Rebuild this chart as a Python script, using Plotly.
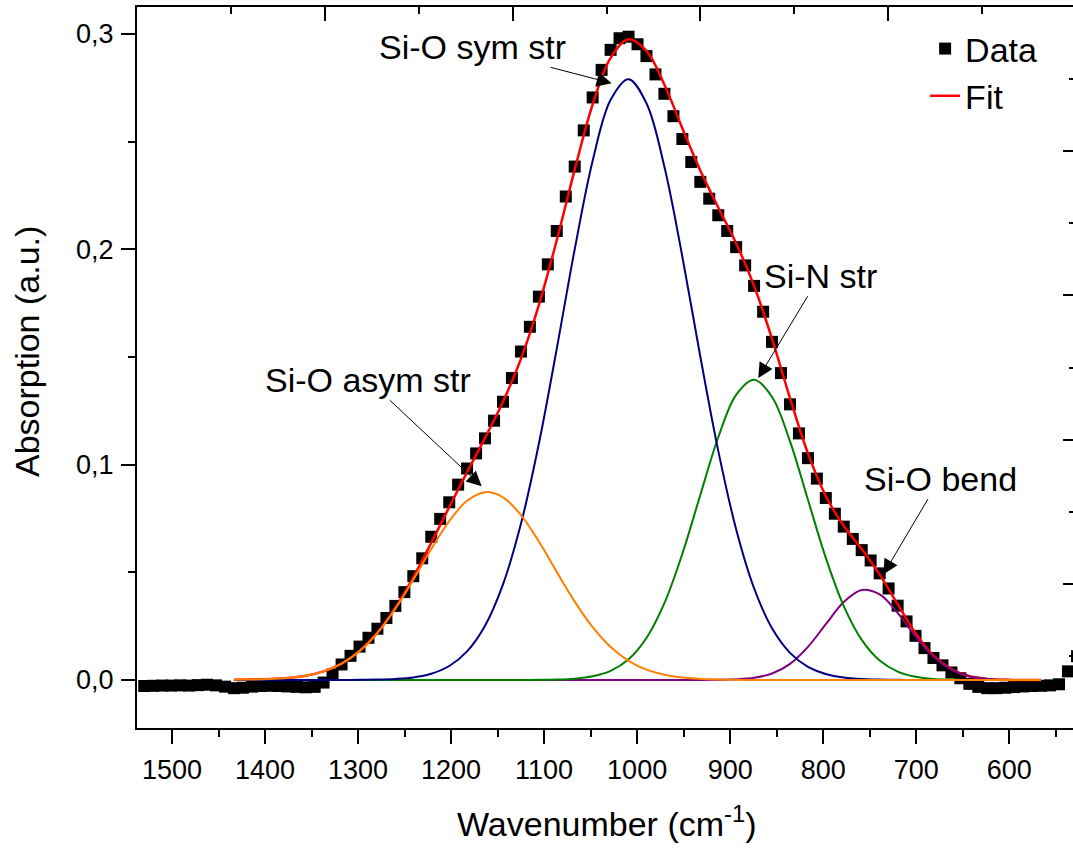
import plotly.graph_objects as go

# Measured FTIR spectrum (wavenumber in cm^-1, absorption in a.u.)
wavenumber = [
    1529.8, 1520.2, 1510.5, 1500.9, 1491.2, 1481.6, 1472.0, 1462.3, 1452.7, 1443.0,
    1433.4, 1423.8, 1414.1, 1404.5, 1394.8, 1385.2, 1375.6, 1365.9, 1356.3, 1346.6,
    1337.0, 1327.4, 1317.7, 1308.1, 1298.4, 1288.8, 1279.2, 1269.5, 1259.9, 1250.2,
    1240.6, 1231.0, 1221.3, 1211.7, 1202.0, 1192.4, 1182.8, 1173.1, 1163.5, 1153.8,
    1144.2, 1134.6, 1124.9, 1115.3, 1105.6, 1096.0, 1086.4, 1076.7, 1067.1, 1057.4,
    1047.8, 1038.2, 1028.5, 1018.9, 1009.2, 999.6, 990.0, 980.3, 970.7, 961.0,
    951.4, 941.8, 932.1, 922.5, 912.8, 903.2, 893.6, 883.9, 874.3, 864.6,
    855.0, 845.4, 835.7, 826.1, 816.4, 806.8, 797.2, 787.5, 777.9, 768.2,
    758.6, 749.0, 739.3, 729.7, 720.0, 710.4, 700.8, 691.1, 681.5, 671.8,
    662.2, 652.6, 642.9, 633.3, 623.6, 614.0, 604.4, 594.7, 585.1, 575.4,
    565.8, 556.2, 546.5, 536.9, 527.2,
]
absorption = [
    -0.0028, -0.0027, -0.0026, -0.0026, -0.0025, -0.0026, -0.0024, -0.0022, -0.0025, -0.0031,
    -0.0038, -0.0036, -0.0031, -0.0028, -0.0027, -0.0028, -0.0030, -0.0032, -0.0034, -0.0032,
    -0.0012, 0.0025, 0.0072, 0.0112, 0.0155, 0.0196, 0.0238, 0.0288, 0.0344, 0.0408,
    0.0482, 0.0565, 0.0665, 0.0748, 0.0825, 0.0907, 0.0982, 0.1052, 0.1122, 0.1204,
    0.1292, 0.1402, 0.1525, 0.1640, 0.1780, 0.1930, 0.2085, 0.2245, 0.2384, 0.2552,
    0.2705, 0.2833, 0.2926, 0.2980, 0.2987, 0.2952, 0.2897, 0.2812, 0.2722, 0.2618,
    0.2512, 0.2405, 0.2313, 0.2235, 0.2158, 0.2085, 0.2010, 0.1925, 0.1830, 0.1710,
    0.1570, 0.1425, 0.1280, 0.1145, 0.1030, 0.0935, 0.0845, 0.0772, 0.0712, 0.0655,
    0.0603, 0.0555, 0.0495, 0.0425, 0.0345, 0.0272, 0.0205, 0.0148, 0.0102, 0.0068,
    0.0035, 0.0008, -0.0018, -0.0032, -0.0038, -0.0038, -0.0036, -0.0033, -0.0030, -0.0028,
    -0.0027, -0.0025, -0.0020, 0.0040, 0.0110,
]

# Fitted band components, sampled over the fit window
fit_wavenumber = [
    1433.4, 1414.1, 1394.8, 1375.6, 1356.3, 1337.0, 1317.7, 1298.4, 1279.2, 1259.9,
    1240.6, 1221.3, 1202.0, 1182.8, 1163.5, 1144.2, 1124.9, 1105.6, 1086.4, 1067.1,
    1047.8, 1028.5, 1009.2, 990.0, 970.7, 951.4, 932.1, 912.8, 893.6, 874.3,
    855.0, 835.7, 816.4, 797.2, 777.9, 758.6, 739.3, 720.0, 700.8, 681.5,
    662.2, 642.9, 623.6, 604.4, 585.1, 565.8,
]
si_o_asym = [
    0.0001, 0.0002, 0.0004, 0.0009, 0.0020, 0.0040, 0.0076, 0.0134, 0.0218, 0.0331,
    0.0465, 0.0608, 0.0738, 0.0832, 0.0872, 0.0848, 0.0766, 0.0643, 0.0502, 0.0364,
    0.0245, 0.0153, 0.0089, 0.0048, 0.0024, 0.0011, 0.0005, 0.0002, 0.0001, 0.0,
    0.0, 0.0, 0.0, 0.0, 0.0, 0.0, 0.0, 0.0, 0.0, 0.0,
    0.0, 0.0, 0.0, 0.0, 0.0, 0.0,
]
si_o_sym = [
    0.0, 0.0, 0.0, 0.0, 0.0, 0.0, 0.0, 0.0001, 0.0002, 0.0005,
    0.0012, 0.0029, 0.0065, 0.0133, 0.0252, 0.0444, 0.0725, 0.1098, 0.1538, 0.2000,
    0.2411, 0.2694, 0.2790, 0.2678, 0.2383, 0.1965, 0.1502, 0.1064, 0.0700, 0.0426,
    0.0240, 0.0126, 0.0061, 0.0028, 0.0011, 0.0004, 0.0002, 0.0001, 0.0, 0.0,
    0.0, 0.0, 0.0, 0.0, 0.0, 0.0,
]
si_n_str = [
    0.0, 0.0, 0.0, 0.0, 0.0, 0.0, 0.0, 0.0, 0.0, 0.0,
    0.0, 0.0, 0.0, 0.0, 0.0, 0.0, 0.0, 0.0001, 0.0002, 0.0006,
    0.0017, 0.0042, 0.0096, 0.0195, 0.0357, 0.0586, 0.0859, 0.1127, 0.1324, 0.1394,
    0.1314, 0.1108, 0.0837, 0.0567, 0.0343, 0.0186, 0.0090, 0.0039, 0.0015, 0.0005,
    0.0002, 0.0, 0.0, 0.0, 0.0, 0.0,
]
si_o_bend = [
    0.0, 0.0, 0.0, 0.0, 0.0, 0.0, 0.0, 0.0, 0.0, 0.0,
    0.0, 0.0, 0.0, 0.0, 0.0, 0.0, 0.0, 0.0, 0.0, 0.0,
    0.0, 0.0, 0.0, 0.0, 0.0, 0.0, 0.0, 0.0001, 0.0003, 0.0010,
    0.0030, 0.0075, 0.0154, 0.0259, 0.0362, 0.0418, 0.0397, 0.0312, 0.0202, 0.0108,
    0.0048, 0.0017, 0.0005, 0.0001, 0.0, 0.0,
]
# Cumulative fit = sum of the four bands
fit_total = [a + b + c + d for a, b, c, d in zip(si_o_asym, si_o_sym, si_n_str, si_o_bend)]

FONT = "Liberation Sans, Arial, sans-serif"

fig = go.Figure()
fig.add_trace(go.Scatter(
    x=wavenumber, y=absorption, mode="markers", name="Data",
    marker=dict(symbol="square", size=12, color="black", line=dict(width=0)),
))
fig.add_trace(go.Scatter(
    x=fit_wavenumber, y=fit_total, mode="lines", name="Fit",
    line=dict(color="#FF0000", width=2.5, shape="spline"),
))
for values, color in [
    (si_o_bend, "#800080"),
    (si_n_str, "#008000"),
    (si_o_sym, "#000080"),
    (si_o_asym, "#FF8000"),
]:
    fig.add_trace(go.Scatter(
        x=fit_wavenumber, y=values, mode="lines", showlegend=False,
        line=dict(color=color, width=2, shape="spline"),
    ))

# Empty trace that activates the frame layer (top / right axes)
fig.add_trace(go.Scatter(x=[], y=[], xaxis="x2", yaxis="y2",
                         showlegend=False, hoverinfo="skip"))

# Band labels: text centred at (ax, ay), arrow tip on the component at (x, y)
labels = [
    ("Si-O sym str", 1177.5, 0.2940, 1027.4, 0.2771),
    ("Si-O asym str", 1289.3, 0.1394, 1167.1, 0.0899),
    ("Si-N str", 803.4, 0.1877, 869.8, 0.1402),
    ("Si-O bend", 674.4, 0.0935, 735.4, 0.0490),
]
annotations = []
for text, tx, ty, hx, hy in labels:
    annotations.append(dict(
        x=hx, y=hy, ax=tx, ay=ty, xref="x", yref="y", axref="x", ayref="y",
        text=text, showarrow=True, arrowhead=2, arrowsize=3, arrowwidth=1,
        arrowcolor="black", standoff=0, startstandoff=0,
        font=dict(family=FONT, size=34, color="black"),
    ))

annotations.append(dict(
    x=0.502, y=-0.130, xref="paper", yref="paper",
    text="Wavenumber (cm<sup>-1</sup>)", showarrow=False,
    font=dict(family=FONT, size=34, color="black"),
    xanchor="center", yanchor="middle",
))
annotations.append(dict(
    x=-0.1175, y=0.5215, xref="paper", yref="paper",
    text="Absorption (a.u.)", showarrow=False, textangle=-90,
    font=dict(family=FONT, size=34, color="black"),
    xanchor="center", yanchor="middle",
))

fig.update_layout(
    width=1073, height=849,
    margin=dict(l=137, r=0, t=7, b=121, pad=0),
    paper_bgcolor="white", plot_bgcolor="white",
    font=dict(family=FONT, color="black"),
    separators=",.",
    showlegend=True,
    legend=dict(
        x=0.842, y=0.982, xanchor="left", yanchor="top",
        font=dict(family=FONT, size=34, color="black"),
        bgcolor="rgba(0,0,0,0)", borderwidth=0, tracegroupgap=0,
    ),
    annotations=annotations,
    xaxis=dict(
        range=[1537.6, 531.5], showgrid=False, zeroline=False,
        showline=True, linecolor="black", linewidth=2,
        ticks="outside", ticklen=14, tickwidth=2, tickcolor="black",
        tick0=0, dtick=100, ticklabelstandoff=3,
        minor=dict(ticks="outside", ticklen=7, tickwidth=2, tickcolor="black", dtick=50),
        tickfont=dict(family=FONT, size=27, color="black"),
    ),
    yaxis=dict(
        range=[-0.0223, 0.3125], showgrid=False, zeroline=False,
        showline=True, linecolor="black", linewidth=2,
        ticks="outside", ticklen=14, tickwidth=2, tickcolor="black",
        tick0=0, dtick=0.1, tickformat=".1f", ticklabelstandoff=2,
        minor=dict(ticks="outside", ticklen=7, tickwidth=2, tickcolor="black", dtick=0.05),
        tickfont=dict(family=FONT, size=27, color="black"),
    ),
    # Frame axes (top and right) of the layer
    xaxis2=dict(
        overlaying="x", side="top", anchor="y", range=[0, 4.984],
        showgrid=False, zeroline=False, showticklabels=False,
        showline=True, linecolor="black", linewidth=2,
        ticks="inside", ticklen=14, tickwidth=2, tickcolor="black", tick0=0, dtick=1,
        minor=dict(ticks="inside", ticklen=7, tickwidth=2, tickcolor="black", dtick=0.5),
    ),
    yaxis2=dict(
        overlaying="y", side="right", anchor="x", range=[0, 5],
        showgrid=False, zeroline=False, showticklabels=False, showline=False,
        ticks="inside", ticklen=10, tickwidth=2, tickcolor="black", tick0=0, dtick=1,
        minor=dict(ticks="inside", ticklen=4, tickwidth=2, tickcolor="black", dtick=0.5),
    ),
)

fig.write_html("out.html")
